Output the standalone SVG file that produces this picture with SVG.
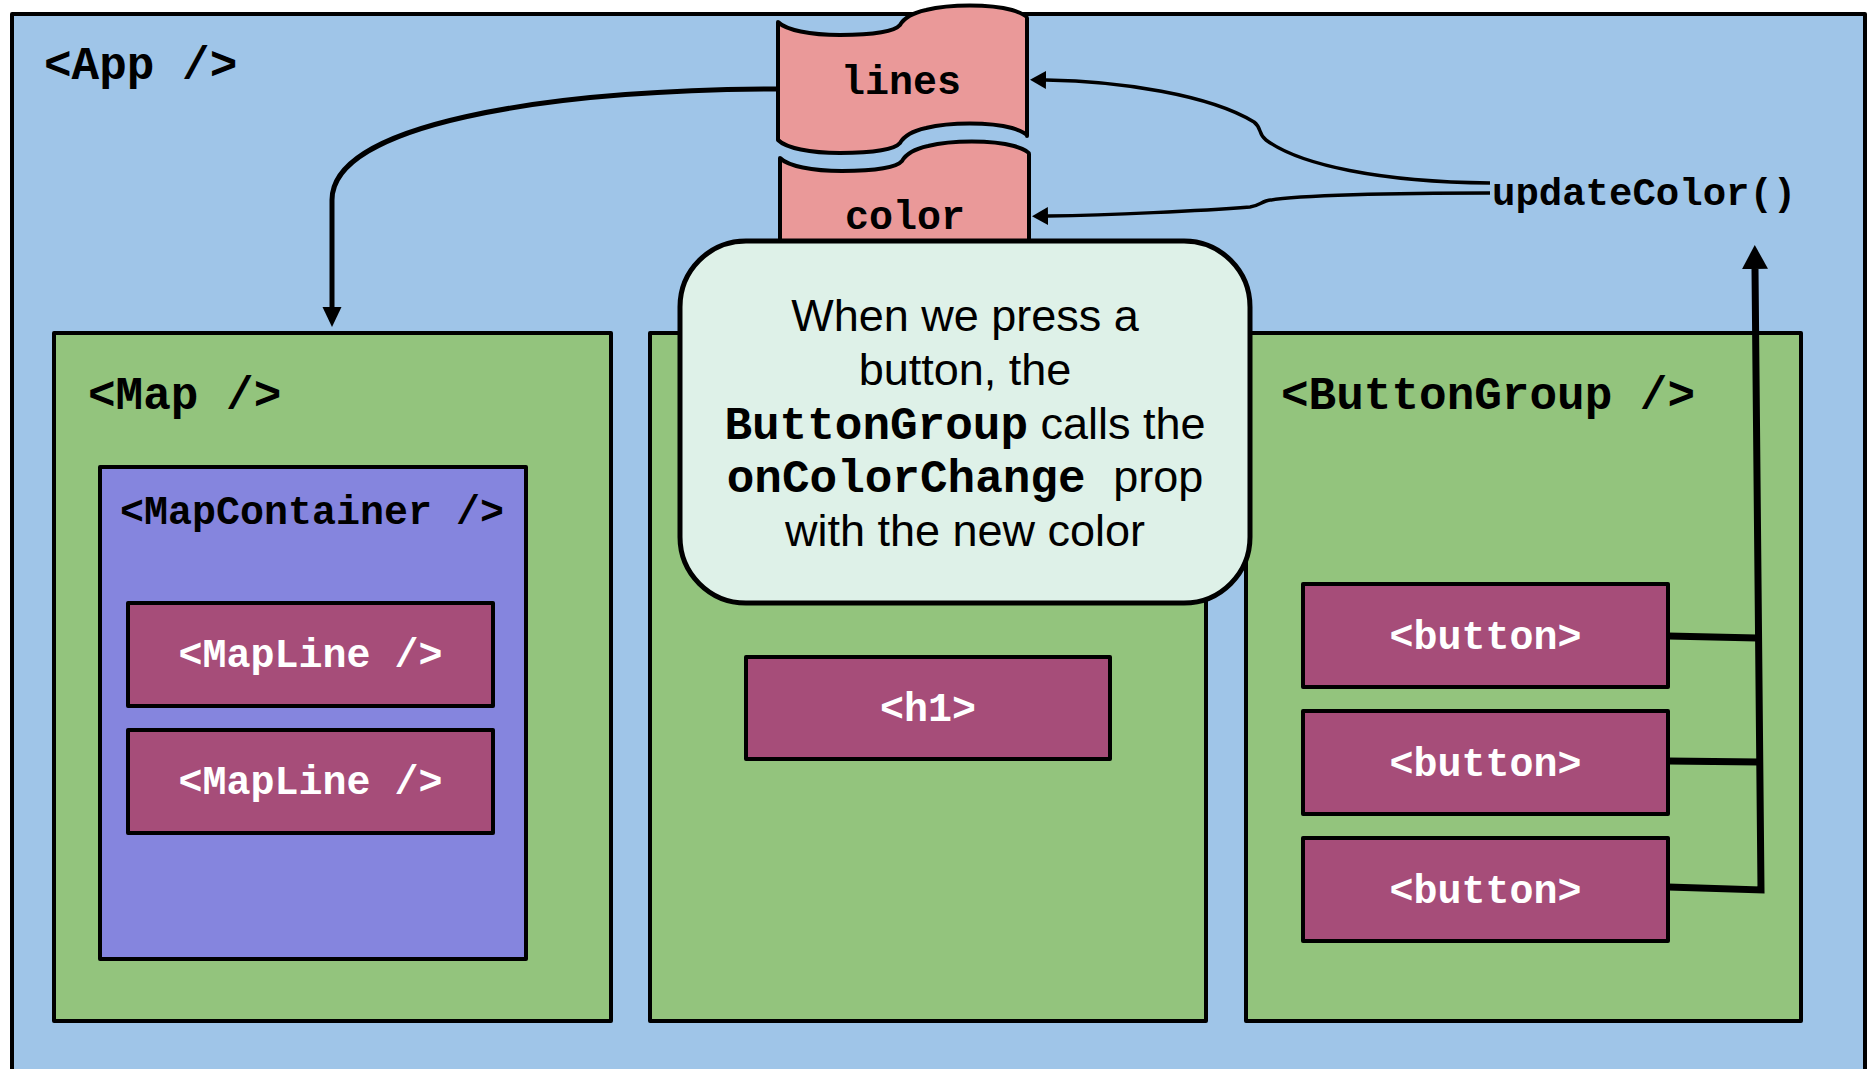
<svg xmlns="http://www.w3.org/2000/svg" width="1872" height="1069" viewBox="0 0 1872 1069">
  <style>
    .box { stroke: #000; stroke-width: 4; stroke-linejoin: round; }
    .app { fill: #9FC5E8; }
    .comp { fill: #93C47D; }
    .cont { fill: #8585DE; }
    .elem { fill: #A64D79; }
    .store { fill: #EA9999; stroke: #000; stroke-width: 4; stroke-linejoin: round; }
    .note { fill: #DEF1E8; stroke: #000; stroke-width: 5; }
    .code { font-family: "Liberation Mono", "Courier New", monospace; font-weight: bold; fill: #000; }
    .big { font-size: 46px; }
    .mid { font-size: 40px; }
    .light { fill: #FFFFFF; }
    .prose { font-family: "Liberation Sans", Arial, sans-serif; font-size: 45px; fill: #000; }
    .wire { fill: none; stroke: #000; }
    .thick { stroke-width: 5; }
    .heavy { stroke-width: 7; }
    .thin { stroke-width: 3.5; }
  </style>
  <defs>
    <marker id="headDown" markerUnits="userSpaceOnUse" viewBox="0 0 20 20" markerWidth="20" markerHeight="20" refX="0" refY="10" orient="auto">
      <path d="M0,0.5 L20,10 L0,19.5 Z" fill="#000"/>
    </marker>
    <marker id="headUp" markerUnits="userSpaceOnUse" viewBox="0 0 24 26" markerWidth="24" markerHeight="26" refX="0" refY="13" orient="auto">
      <path d="M0,0 L24,13 L0,26 Z" fill="#000"/>
    </marker>
    <marker id="headSmall" markerUnits="userSpaceOnUse" viewBox="0 0 16 18" markerWidth="16" markerHeight="18" refX="0" refY="9" orient="auto">
      <path d="M0,0 L16,9 L0,18 Z" fill="#000"/>
    </marker>
    <!-- stored-state shape: wavy top and bottom edges -->
    <path id="storeShape" d="M778,22 C786,30 810,35 840,35 C875,35 895,31 900,25 C904,18 912,13 926,10 C950,4 990,4 1012,10 C1022,13 1027,16 1027,18 L1027,136 C1027,134 1022,131 1012,128 C990,122 950,122 926,128 C912,131 904,136 900,143 C895,149 875,153 840,153 C810,153 786,148 778,140 Z"/>
  </defs>

  <g id="app">
    <rect class="box app" x="12" y="14" width="1853" height="1075"/>
    <text class="code big" x="44" y="79">&lt;App /&gt;</text>
  </g>

  <g id="map">
    <rect class="box comp" x="54" y="333" width="557" height="688"/>
    <text class="code big" x="88" y="409">&lt;Map /&gt;</text>
  </g>

  <g id="map-container">
    <rect class="box cont" x="100" y="467" width="426" height="492"/>
    <text class="code mid" x="120" y="524">&lt;MapContainer /&gt;</text>
  </g>

  <g id="map-line-1">
    <rect class="box elem" x="128" y="603" width="365" height="103"/>
    <text class="code mid light" x="310.5" y="667" text-anchor="middle">&lt;MapLine /&gt;</text>
  </g>

  <g id="map-line-2">
    <rect class="box elem" x="128" y="730" width="365" height="103"/>
    <text class="code mid light" x="310.5" y="794" text-anchor="middle">&lt;MapLine /&gt;</text>
  </g>

  <g id="header">
    <rect class="box comp" x="650" y="333" width="556" height="688"/>
  </g>

  <g id="h1">
    <rect class="box elem" x="746" y="657" width="364" height="102"/>
    <text class="code mid light" x="928" y="721" text-anchor="middle">&lt;h1&gt;</text>
  </g>

  <g id="button-group">
    <rect class="box comp" x="1246" y="333" width="555" height="688"/>
    <text class="code big" x="1281" y="409">&lt;ButtonGroup /&gt;</text>
  </g>

  <g id="button-1">
    <rect class="box elem" x="1303" y="584" width="365" height="103"/>
    <text class="code mid light" x="1485.5" y="649" text-anchor="middle">&lt;button&gt;</text>
  </g>

  <g id="button-2">
    <rect class="box elem" x="1303" y="711" width="365" height="103"/>
    <text class="code mid light" x="1485.5" y="776" text-anchor="middle">&lt;button&gt;</text>
  </g>

  <g id="button-3">
    <rect class="box elem" x="1303" y="838" width="365" height="103"/>
    <text class="code mid light" x="1485.5" y="903" text-anchor="middle">&lt;button&gt;</text>
  </g>

  <g id="state-color">
    <use href="#storeShape" class="store" transform="translate(2,136)"/>
    <text class="code mid" x="905" y="229" text-anchor="middle">color</text>
  </g>

  <g id="state-lines">
    <use href="#storeShape" class="store"/>
    <text class="code mid" x="901" y="94" text-anchor="middle">lines</text>
  </g>

  <g id="update-color">
    <text class="code" font-size="39" x="1492" y="205">updateColor()</text>
  </g>

  <g id="callout">
    <rect class="note" x="680" y="241" width="570" height="362" rx="66" ry="66"/>
    <text class="prose" x="965" y="331" text-anchor="middle">When we press a</text>
    <text class="prose" x="965" y="385" text-anchor="middle">button, the</text>
    <text class="prose" x="965" y="439" text-anchor="middle"><tspan class="code big">ButtonGroup</tspan> calls the</text>
    <text class="prose" x="965" y="492" text-anchor="middle"><tspan class="code big">onColorChange </tspan>prop</text>
    <text class="prose" x="965" y="546" text-anchor="middle">with the new color</text>
  </g>

  <g id="connectors">
    <!-- lines state flows down into Map -->
    <path class="wire thick" d="M778,89 C540,90 332,125 332,200 L332,307" marker-end="url(#headDown)"/>
    <!-- buttons report up to updateColor() -->
    <path class="wire heavy" d="M1668,636 L1757,638"/>
    <path class="wire heavy" d="M1668,761 L1759,762"/>
    <path class="wire heavy" d="M1668,887 L1761,890 L1755,269" marker-end="url(#headUp)"/>
    <!-- updateColor() sets both pieces of state -->
    <path class="wire thin" d="M1490,183 C1380,182 1300,165 1266,140 C1258,134 1262,128 1254,122 C1210,95 1120,81 1046,80" marker-end="url(#headSmall)"/>
    <path class="wire thin" d="M1490,193 C1400,193 1290,195 1266,201 C1260,203 1258,206 1250,207 C1200,211 1110,215 1048,216" marker-end="url(#headSmall)"/>
  </g>
</svg>
